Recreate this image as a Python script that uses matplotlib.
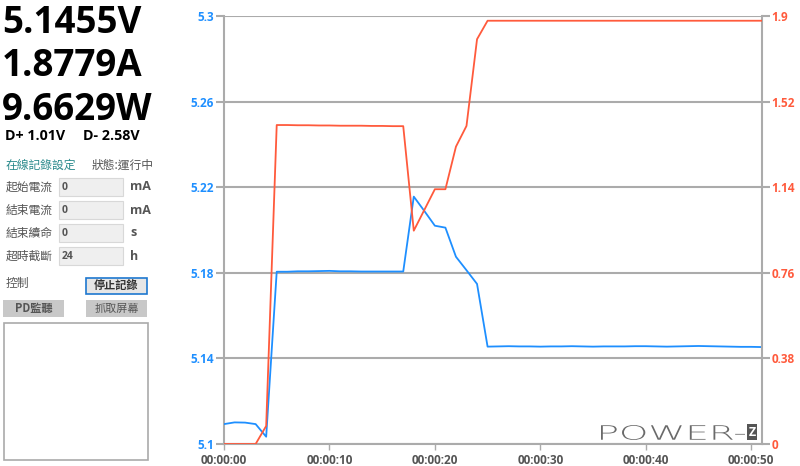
import matplotlib
matplotlib.use('Agg')
import matplotlib.pyplot as plt
from matplotlib.patches import Rectangle, PathPatch
from matplotlib.textpath import TextPath
from matplotlib.font_manager import FontProperties
from matplotlib.transforms import Affine2D

plt.rcParams['font.family'] = ['Open Sans', 'Noto Sans CJK TC', 'DejaVu Sans']

# data: one sample per second
seconds = list(range(0, 52))
voltage = [5.1093, 5.1101, 5.1100, 5.1093, 5.1034, 5.1805, 5.1805, 5.1807, 5.1807, 5.1808,
           5.1809, 5.1807, 5.1807, 5.1806, 5.1806, 5.1806, 5.1806, 5.1806, 5.2156, 5.2089,
           5.2020, 5.2011, 5.1875, 5.1812, 5.1748, 5.1455,
           5.1456, 5.1457, 5.1456, 5.1456, 5.1455, 5.1456, 5.1456, 5.1457, 5.1456, 5.1455,
           5.1456, 5.1456, 5.1456, 5.1457, 5.1457, 5.1456, 5.1455, 5.1456, 5.1457, 5.1458,
           5.1457, 5.1456, 5.1455, 5.1454, 5.1454, 5.1453]
current = [0, 0, 0, 0, 0.08, 1.416, 1.416, 1.415, 1.415, 1.414, 1.414, 1.413, 1.413, 1.413,
           1.412, 1.412, 1.411, 1.411, 0.947, 1.039, 1.131, 1.131, 1.320, 1.412, 1.797] + [1.879] * 27

v_ticks = [5.1, 5.14, 5.18, 5.22, 5.26, 5.3]
v_tick_labels = ['5.1', '5.14', '5.18', '5.22', '5.26', '5.3']
a_ticks = [0, 0.38, 0.76, 1.14, 1.52, 1.9]
a_tick_labels = ['0', '0.38', '0.76', '1.14', '1.52', '1.9']
x_ticks = [0, 10, 20, 30, 40, 50]
x_tick_labels = ['00:00:00', '00:00:10', '00:00:20', '00:00:30', '00:00:40', '00:00:50']

readings = ['5.1455V', '1.8779A', '9.6629W']
dplus = 'D+ 1.01V'
dminus = 'D- 2.58V'
fields = [('起始電流', '0', 'mA'), ('結束電流', '0', 'mA'), ('結束續命', '0', 's'), ('超時截斷', '24', 'h')]

BLUE = '#1e8fff'
RED = '#ff5a3c'
GRID = '#ababab'
CJK = ['Noto Sans CJK TC']

W, H = 800, 466
fig = plt.figure(figsize=(8, 4.66), dpi=100)

ax = fig.add_axes([224 / W, 1 - 444 / H, (761.7 - 224) / W, (444 - 16) / H])
ax2 = ax.twinx()

ax.plot(seconds, voltage, color=BLUE, lw=1.3, zorder=3)
ax2.plot(seconds, current, color=RED, lw=1.3, zorder=3)

ax.set_xlim(0, 51)
ax.set_ylim(5.1, 5.3)
ax2.set_ylim(0, 1.9)
ax.set_xticks(x_ticks)
ax.set_xticklabels(x_tick_labels)
ax.set_yticks(v_ticks)
ax.set_yticklabels(v_tick_labels)
ax2.set_yticks(a_ticks)
ax2.set_yticklabels(a_tick_labels)

ax.grid(axis='y', color=GRID, lw=1.5)
ax.set_axisbelow(True)
for a in (ax, ax2):
    for s in ('top', 'right', 'left', 'bottom'):
        a.spines[s].set_visible(False)
ax.spines['left'].set_visible(True)
ax.spines['bottom'].set_visible(True)
ax2.spines['right'].set_visible(True)
for sp in (ax.spines['left'], ax.spines['bottom'], ax2.spines['right']):
    sp.set_color(GRID)
    sp.set_linewidth(1.5)

ax.tick_params(axis='y', colors=GRID, labelcolor=BLUE, length=6, width=1.5, labelsize=8.5, pad=1)
ax2.tick_params(axis='y', colors=GRID, labelcolor=RED, length=6, width=1.5, labelsize=8.5, pad=1)
ax.tick_params(axis='x', colors=GRID, labelcolor='#555555', length=4, width=1, labelsize=8.5, pad=3)
for lab in ax.get_yticklabels() + ax2.get_yticklabels() + ax.get_xticklabels():
    lab.set_fontweight('bold')

# overlay in pixel coordinates for the side panel and watermark
ov = fig.add_axes([0, 0, 1, 1], zorder=5)
ov.set_xlim(0, W)
ov.set_ylim(H, 0)
ov.axis('off')

for i, r in enumerate(readings):
    ov.text(2, 33 + i * 43.5, r, fontsize=26.5, fontweight='bold', color='black', va='baseline')
ov.text(5, 140, dplus, fontsize=10.3, fontweight='bold', color='black', va='baseline')
ov.text(83, 140, dminus, fontsize=10.3, fontweight='bold', color='black', va='baseline')

ov.text(6, 165, '在線記錄設定', fontsize=8.5, color='#2a8a8c', va='center', family=CJK)
ov.text(92, 165, '狀態:運行中', fontsize=8.5, color='#555555', va='center', family=CJK)

for i, (name, val, unit) in enumerate(fields):
    y = 187 + i * 23
    ov.text(6, y, name, fontsize=8.5, color='#555555', va='center', family=CJK)
    ov.add_patch(Rectangle((59, y - 9), 64, 18, facecolor='#efefef', edgecolor='#d8d8d8', lw=0.8))
    ov.text(62, y + 0.5, val, fontsize=7.5, fontweight='bold', color='#555555', va='center')
    ov.text(130, y, unit, fontsize=9, fontweight='bold', color='#555555', va='center')

ov.text(6, 284, '控制', fontsize=8.5, color='#555555', va='center', family=CJK)
ov.add_patch(Rectangle((86, 278), 61, 16, facecolor='#e6e6e6', edgecolor='#1e78d0', lw=1.2))
ov.text(116.5, 286, '停止記錄', fontsize=8, fontweight='bold', color='#333333', ha='center', va='center',
        family=CJK)
ov.add_patch(Rectangle((3, 300), 61, 17, facecolor='#c8c8c8', edgecolor='none'))
ov.text(33.5, 308.5, 'PD監聽', fontsize=8, fontweight='bold', color='#555555', ha='center', va='center',
        family=CJK)
ov.add_patch(Rectangle((86, 300), 61, 17, facecolor='#c8c8c8', edgecolor='none'))
ov.text(116.5, 308.5, '抓取屏幕', fontsize=8, color='#555555', ha='center', va='center', family=CJK)
ov.add_patch(Rectangle((4, 323), 144, 137, facecolor='white', edgecolor='#aaaaaa', lw=1.2))

# POWER-Z watermark
tp = TextPath((0, 0), 'POWER-', size=10, prop=FontProperties(family='DejaVu Sans', weight='light'))
bb = tp.get_extents()
sx = 144 / bb.width
sy = 15 / bb.height
tr = Affine2D().translate(-bb.x0, -bb.y0).scale(sx, -sy).translate(601, 440)
ov.add_patch(PathPatch(tr.transform_path(tp), facecolor='#6a6a6a', edgecolor='none'))
ov.add_patch(Rectangle((747, 424), 10, 16, facecolor='#555555', edgecolor='none'))
ov.text(752, 432.5, 'Z', fontsize=9, fontweight='bold', color='white', ha='center', va='center')

fig.savefig('out.png', dpi=100, facecolor='white')
